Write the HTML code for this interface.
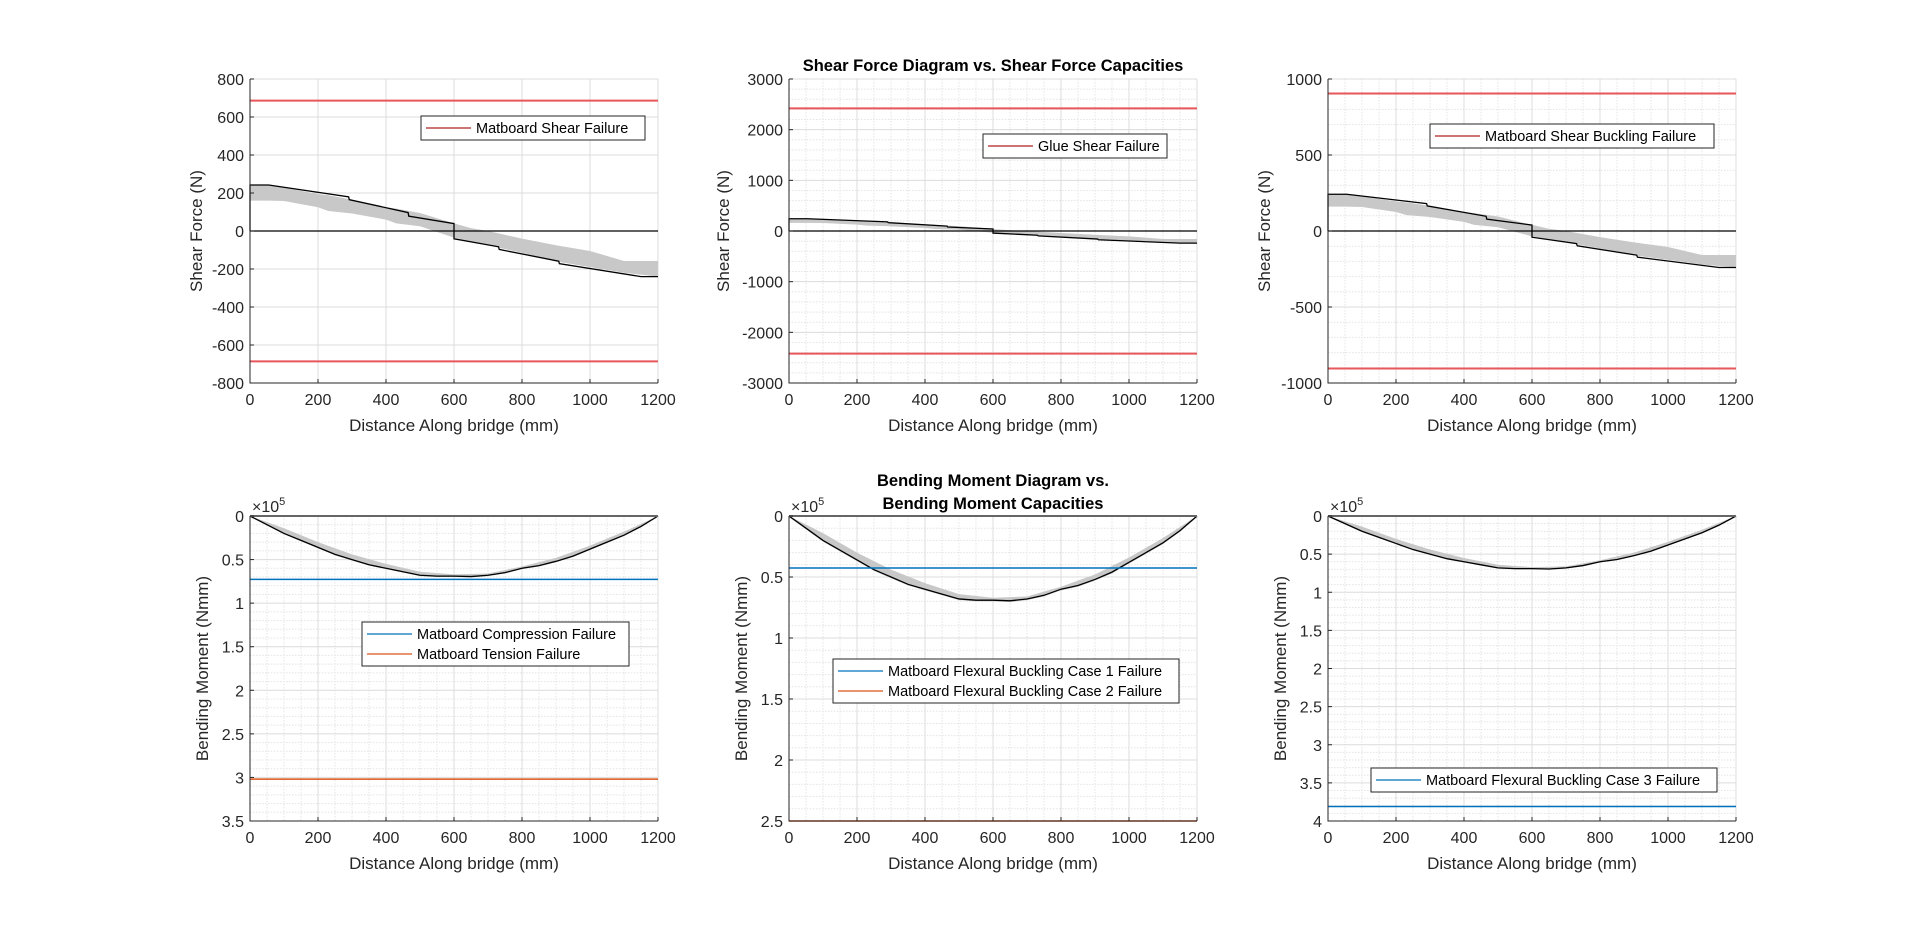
<!DOCTYPE html>
<html><head><meta charset="utf-8">
<style>
html,body{margin:0;padding:0;background:#fff;}
svg{display:block;font-family:"Liberation Sans",Arial,sans-serif;}
</style></head>
<body>
<svg id="fig" width="1920" height="926" viewBox="0 0 1920 926" xmlns="http://www.w3.org/2000/svg"></svg>
<script>
// ---- data ----
const shearX = [0,0,55,290,292,465,467,600,600,731,733,908,910,1150,1200];
const shearV = [0,242,242,180,165,97,78,39,-41,-83,-97,-159,-172,-240,-240];
const bandX = [0,55,100,200,230,300,400,430,500,600,650,700,800,900,1000,1100,1200];
const bandTop = [242,242,228,195,188,165,125,118,95,40,15,0,-40,-75,-105,-158,-158];
const bandBot = [160,160,158,125,105,92,60,40,25,-35,-55,-75,-115,-160,-190,-220,-240];
const momX = [0,50,100,150,200,250,300,350,400,450,500,550,600,650,700,750,800,850,900,950,1000,1050,1100,1150,1200];
const momV = [0,0.1,0.2,0.28,0.36,0.44,0.5,0.56,0.6,0.64,0.68,0.69,0.69,0.695,0.68,0.65,0.6,0.57,0.52,0.46,0.38,0.3,0.22,0.12,0];
const momBandX = [0,100,200,300,400,500,600,700,800,900,1000,1100,1200];
const momBandTop = [0,0.14,0.3,0.44,0.55,0.64,0.67,0.66,0.58,0.48,0.34,0.18,0];
const xTicks = [0,200,400,600,800,1000,1200];
const capShearL = [686,-686];
const capShearM = [2420,-2420];
const capShearR = [905,-905];
const capMomL = [0.727,3.02];
const capMomM = [0.426,2.5];
const capMomR = [3.81];
const yTicksSL = [800,600,400,200,0,-200,-400,-600,-800];
const yTicksSM = [3000,2000,1000,0,-1000,-2000,-3000];
const yTicksSR = [1000,500,0,-500,-1000];
const yTicksML = [0,0.5,1,1.5,2,2.5,3,3.5];
const yTicksMM = [0,0.5,1,1.5,2,2.5];
const yTicksMR = [0,0.5,1,1.5,2,2.5,3,3.5,4];

const NS='http://www.w3.org/2000/svg';
const fig=document.getElementById('fig');
function mk(tag,attrs,parent){const e=document.createElementNS(NS,tag);for(const k in attrs)e.setAttribute(k,attrs[k]);(parent||fig).appendChild(e);return e;}

function axes(o){
  const g=mk('g',{});
  
  
  const L=o.x,T=o.y,W=408,H=o.h;
  const sx=v=>L+v/1200*W;
  const sy=o.rev?(v=>T+(v-o.ymin)/(o.ymax-o.ymin)*H):(v=>T+(o.ymax-v)/(o.ymax-o.ymin)*H);
  // minor grid
  if(o.minor){
    for(let v=50;v<1200;v+=50){if(v%200===0)continue;
      const l=mk('line',{x1:sx(v),x2:sx(v),y1:T,y2:T+H,stroke:'#e4e4e4','stroke-dasharray':'1.5,1.5','stroke-width':1},g);
      
      }
    const st=o.minor;
    for(let v=o.ymin;v<=o.ymax+1e-9;v+=st){
      if(o.ticks.some(t=>Math.abs(t-v)<1e-9))continue;
      const l=mk('line',{x1:L,x2:L+W,y1:sy(v),y2:sy(v),stroke:'#e4e4e4','stroke-dasharray':'1.5,1.5','stroke-width':1},g);
      
      }
  }
  xTicks.forEach(v=>{const l=mk('line',{x1:sx(v),x2:sx(v),y1:T,y2:T+H,stroke:'#dcdcdc','stroke-width':1},g);
    
    });
  o.ticks.forEach(v=>{const l=mk('line',{x1:L,x2:L+W,y1:sy(v),y2:sy(v),stroke:'#dcdcdc','stroke-width':1},g);
    
    });
  // series
  o.draw(g,sx,sy);
  // axes lines
  if(o.rev){const t=mk('line',{x1:L,x2:L+W,y1:T,y2:T,stroke:'#666',"stroke-width":2},g);
    
    }
  const ax=mk('path',{d:`M${L},${T}V${T+H}H${L+W}`,fill:'none',stroke:'#262626','stroke-width':1},g);
  
  
  xTicks.forEach(v=>{
    mk('line',{x1:sx(v),x2:sx(v),y1:T+H,y2:T+H-4,stroke:'#262626'},g);
    const t=mk('text',{x:sx(v),y:T+H+22,'text-anchor':'middle','font-size':16,fill:'#262626'},g);
    t.textContent=v;
    
    
  });
  o.ticks.forEach(v=>{
    mk('line',{x1:L,x2:L+4,y1:sy(v),y2:sy(v),stroke:'#262626'},g);
    const t=mk('text',{x:L-6,y:sy(v)+6,'text-anchor':'end','font-size':16,fill:'#262626'},g);
    t.textContent=v;
    
    
  });
  const xl=mk('text',{x:L+W/2,y:T+H+48,'text-anchor':'middle','font-size':17,fill:'#262626'},g);
  xl.textContent='Distance Along bridge (mm)';
  
  
  const yl=mk('text',{x:0,y:0,'text-anchor':'middle','font-size':17,fill:'#262626',transform:`translate(${L-o.ylOff},${T+H/2}) rotate(-90)`},g);
  yl.textContent=o.ylabel;
  
  
  if(o.rev){
    const ex=mk('text',{x:L+2,y:T-4,'font-size':16,fill:'#262626'},g);
    ex.innerHTML='×10<tspan dy="-7" font-size="11">5</tspan>';
    
    
  }
  // legend
  const lg=o.legend;
  const lb=mk('g',{},g);
  
  
  mk('rect',{x:lg.x,y:lg.y,width:lg.w,height:lg.items.length*20+4,fill:'#fff',stroke:'#262626','stroke-width':1},lb);
  lg.items.forEach((it,i)=>{
    const cy=lg.y+12+i*20;
    mk('line',{x1:lg.x+5,x2:lg.x+50,y1:cy,y2:cy,stroke:it.c,'stroke-width':1.3},lb);
    const t=mk('text',{x:lg.x+55,y:cy+5,'font-size':14.5,fill:'#000'},lb);
    t.textContent=it.t;
    
    
  });
  return g;
}

function shearDraw(caps){
  return (g,sx,sy)=>{
    let d='';
    bandX.forEach((x,i)=>{d+=(i?'L':'M')+sx(x)+','+sy(bandTop[i]);});
    for(let i=bandX.length-1;i>=0;i--)d+='L'+sx(bandX[i])+','+sy(bandBot[i]);
    const b=mk('path',{d:d+'Z',fill:'#c8c8c8'},g);
    
    
    const z=mk('line',{x1:sx(0),x2:sx(1200),y1:sy(0),y2:sy(0),stroke:'#000','stroke-width':1.3},g);
    
    
    let p='';shearX.forEach((x,i)=>{p+=(i?'L':'M')+sx(x)+','+sy(shearV[i]);});
    const s=mk('path',{d:p,fill:'none',stroke:'#000','stroke-width':1.3},g);
    
    
    caps.forEach(c=>{const l=mk('line',{x1:sx(0),x2:sx(1200),y1:sy(c),y2:sy(c),stroke:'#e8575c','stroke-width':2},g);
      
      });
  };
}
function momDraw(caps,cols){
  return (g,sx,sy)=>{
    let d='';
    momBandX.forEach((x,i)=>{d+=(i?'L':'M')+sx(x)+','+sy(momBandTop[i]);});
    for(let i=momX.length-1;i>=0;i--)d+='L'+sx(momX[i])+','+sy(momV[i]+0.01);
    const b=mk('path',{d:d+'Z',fill:'#c8c8c8'},g);
    
    
    let p='';momX.forEach((x,i)=>{p+=(i?'L':'M')+sx(x)+','+sy(momV[i]);});
    const s=mk('path',{d:p,fill:'none',stroke:'#000','stroke-width':1.3},g);
    
    
    caps.forEach((c,i)=>{const l=mk('line',{x1:sx(0),x2:sx(1200),y1:sy(c),y2:sy(c),stroke:cols[i],'stroke-width':1.5},g);
      
      });
  };
}
const BL='#0072BD',OR='#D95319',RD='#b22222';
const TOP=79,TH=304,BOT=516,BH=305;
axes({name:'shear-plot-matboard',x:250,y:TOP,h:TH,ymin:-800,ymax:800,ticks:yTicksSL,minor:0,ylabel:'Shear Force (N)',ylOff:48,
  draw:shearDraw(capShearL),legend:{x:421,y:116,w:224,items:[{c:RD,t:'Matboard Shear Failure'}]}});
axes({name:'shear-plot-glue',x:789,y:TOP,h:TH,ymin:-3000,ymax:3000,ticks:yTicksSM,minor:200,ylabel:'Shear Force (N)',ylOff:60,
  draw:shearDraw(capShearM),legend:{x:983,y:134,w:184,items:[{c:RD,t:'Glue Shear Failure'}]}});
axes({name:'shear-plot-buckling',x:1328,y:TOP,h:TH,ymin:-1000,ymax:1000,ticks:yTicksSR,minor:100,ylabel:'Shear Force (N)',ylOff:58,
  draw:shearDraw(capShearR),legend:{x:1430,y:124,w:284,items:[{c:RD,t:'Matboard Shear Buckling Failure'}]}});
axes({name:'moment-plot-matboard',x:250,y:BOT,h:BH,ymin:0,ymax:3.5,rev:true,ticks:yTicksML,minor:0.1,ylabel:'Bending Moment (Nmm)',ylOff:42,
  draw:momDraw(capMomL,[BL,OR]),legend:{x:362,y:622,w:267,items:[{c:BL,t:'Matboard Compression Failure'},{c:OR,t:'Matboard Tension Failure'}]}});
axes({name:'moment-plot-flexural-1-2',x:789,y:BOT,h:BH,ymin:0,ymax:2.5,rev:true,ticks:yTicksMM,minor:0.1,ylabel:'Bending Moment (Nmm)',ylOff:42,
  draw:momDraw(capMomM,[BL,OR]),legend:{x:833,y:659,w:346,items:[{c:BL,t:'Matboard Flexural Buckling Case 1 Failure'},{c:OR,t:'Matboard Flexural Buckling Case 2 Failure'}]}});
axes({name:'moment-plot-flexural-3',x:1328,y:BOT,h:BH,ymin:0,ymax:4,rev:true,ticks:yTicksMR,minor:0.1,ylabel:'Bending Moment (Nmm)',ylOff:42,
  draw:momDraw(capMomR,[BL]),legend:{x:1371,y:768,w:346,items:[{c:BL,t:'Matboard Flexural Buckling Case 3 Failure'}]}});
const t1=mk('text',{x:993,y:71,'text-anchor':'middle','font-size':16.5,'font-weight':'bold',fill:'#000'});
t1.textContent='Shear Force Diagram vs. Shear Force Capacities';


const t2=mk('text',{x:993,y:486,'text-anchor':'middle','font-size':16.5,'font-weight':'bold',fill:'#000'});
t2.textContent='Bending Moment Diagram vs.';


const t3=mk('text',{x:993,y:509,'text-anchor':'middle','font-size':16.5,'font-weight':'bold',fill:'#000'});
t3.textContent='Bending Moment Capacities';


</script>
</body></html>
